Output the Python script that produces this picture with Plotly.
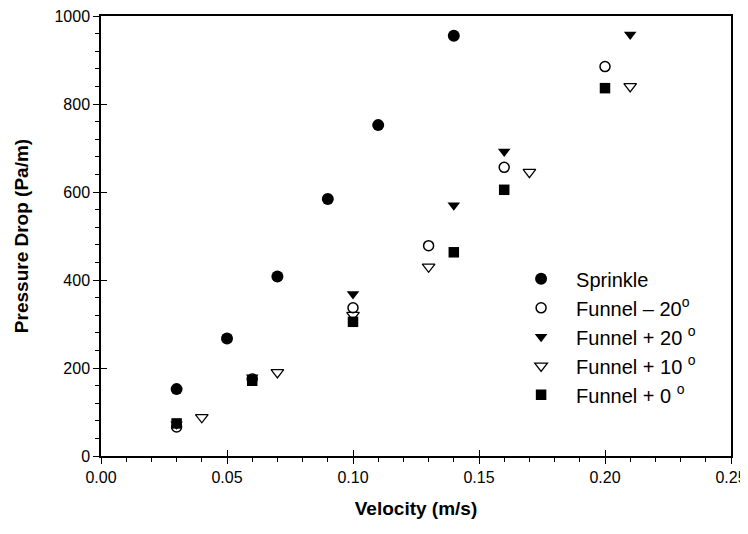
import plotly.graph_objects as go

# ---- data ----
vel_sprinkle = [0.03, 0.05, 0.07, 0.09, 0.11, 0.14]
dp_sprinkle = [152, 267, 408, 584, 752, 955]

vel_funnel_m20 = [0.03, 0.06, 0.10, 0.13, 0.16, 0.20]
dp_funnel_m20 = [66, 175, 337, 478, 656, 885]

vel_funnel_p20 = [0.03, 0.06, 0.10, 0.14, 0.16, 0.21]
dp_funnel_p20 = [72, 179, 368, 570, 692, 958]

vel_funnel_p10 = [0.04, 0.07, 0.10, 0.13, 0.17, 0.21]
dp_funnel_p10 = [88, 190, 320, 430, 645, 840]

vel_funnel_0 = [0.03, 0.06, 0.10, 0.14, 0.16, 0.20]
dp_funnel_0 = [74, 171, 305, 463, 605, 836]

names = ["Sprinkle", "Funnel \u2013 20<sup>o</sup>", "Funnel + 20 <sup>o</sup>",
         "Funnel + 10 <sup>o</sup>", "Funnel + 0 <sup>o</sup>"]

x_ticks = [0.00, 0.05, 0.10, 0.15, 0.20, 0.25]
y_ticks = [0, 200, 400, 600, 800, 1000]

FONT = "Liberation Sans, Arial, sans-serif"

fig = go.Figure()

series = [
    (vel_sprinkle, dp_sprinkle, "circle", 12, 0),
    (vel_funnel_m20, dp_funnel_m20, "circle-open", 10, 1.5),
    (vel_funnel_p20, dp_funnel_p20, "triangle-down", 11, 0),
    (vel_funnel_p10, dp_funnel_p10, "triangle-down-open", 11, 1.3),
    (vel_funnel_0, dp_funnel_0, "square", 10.5, 0),
]
for (xs, ys, sym, sz, lw), nm in zip(series, names):
    fig.add_trace(go.Scatter(
        x=xs, y=ys, mode="markers", name=nm,
        marker=dict(symbol=sym, size=sz, color="black",
                    line=dict(color="black", width=lw)),
    ))

# overlay axes to give major ticks that cross the axis line
fig.add_trace(go.Scatter(x=[], y=[], xaxis="x2", yaxis="y2", showlegend=False))

axis_common = dict(
    showgrid=False, zeroline=False, automargin=False,
    showline=True, linecolor="black", linewidth=1.5, mirror=True,
    ticks="outside", ticklen=6, tickwidth=1.3, tickcolor="black",
    tickfont=dict(family=FONT, size=16, color="black"),
)

fig.update_layout(
    width=740, height=526,
    margin=dict(l=93, r=17, t=8, b=78, autoexpand=False),
    paper_bgcolor="white", plot_bgcolor="white",
    font=dict(family=FONT, color="black"),
    xaxis=dict(
        range=[0, 0.25], tickvals=x_ticks, tickformat=".2f", ticklabeloverflow="allow",
        minor=dict(dtick=0.01, ticks="outside", ticklen=4, tickwidth=1.1, tickcolor="black"),
        title=dict(text="<b>Velocity (m/s)</b>", font=dict(family=FONT, size=19), standoff=17),
        **axis_common,
    ),
    yaxis=dict(
        range=[0, 1000], tickvals=y_ticks, ticklabeloverflow="allow",
        minor=dict(dtick=40, ticks="outside", ticklen=4, tickwidth=1.1, tickcolor="black"),
        title=dict(text="<b>Pressure Drop (Pa/m)</b>", font=dict(family=FONT, size=19), standoff=21),
        **axis_common,
    ),
    xaxis2=dict(range=[0, 0.25], tickvals=x_ticks, overlaying="x", anchor="y2", side="bottom",
                ticks="inside", ticklen=6, tickwidth=1.3, tickcolor="black", automargin=False,
                showticklabels=False, showgrid=False, zeroline=False, showline=False),
    yaxis2=dict(range=[0, 1000], tickvals=y_ticks, overlaying="y", anchor="x2", side="left",
                ticks="inside", ticklen=6, tickwidth=1.3, tickcolor="black", automargin=False,
                showticklabels=False, showgrid=False, zeroline=False, showline=False),
    legend=dict(
        x=0.643, y=0.447, xanchor="left", yanchor="top",
        bgcolor="rgba(0,0,0,0)", borderwidth=0,
        font=dict(family=FONT, size=20, color="black"),
        itemwidth=60,
    ),
    showlegend=True,
)

fig.write_html("out.html")
